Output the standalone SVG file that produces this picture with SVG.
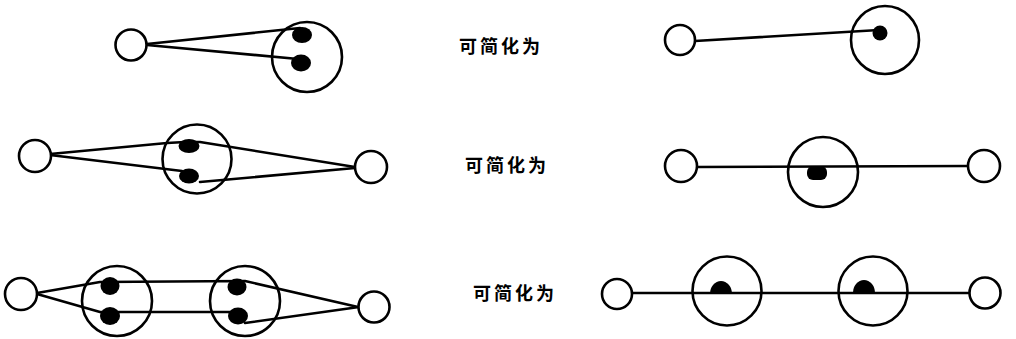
<svg xmlns="http://www.w3.org/2000/svg" width="1016" height="339" viewBox="0 0 1016 339">
  <style>
    .ring { fill: #fff; stroke: #000; stroke-width: 2.6; }
    .big { fill: none; stroke: #000; stroke-width: 2.6; }
    .dot { fill: #000; }
    .wire { fill: none; stroke: #000; stroke-width: 2.6; stroke-linejoin: round; stroke-linecap: round; }
    .label { font-family: "Noto Sans CJK SC", "Noto Sans", sans-serif; font-size: 18px; font-weight: bold; letter-spacing: 3px; fill: #000; }
  </style>
  <rect width="1016" height="339" fill="#fff"/>

  <!-- connectors -->
  <g id="connectors">
    <!-- row 1, left -->
    <polyline class="wire" points="147,44 300,28"/>
    <polyline class="wire" points="147,45 298,59"/>
    <!-- row 1, right -->
    <polyline class="wire" points="695,41 879,30"/>
    <!-- row 2, left -->
    <polyline class="wire" points="50,154 167,143 185,142 200,142 355,167"/>
    <polyline class="wire" points="50,155 182,171"/>
    <polyline class="wire" points="200,182 355,168"/>
    <!-- row 2, right -->
    <polyline class="wire" points="697,167 968,166"/>
    <!-- row 3, left -->
    <polyline class="wire" points="37,293 100,282 245,281 358,307"/>
    <polyline class="wire" points="37,294 100,312 237,312"/>
    <polyline class="wire" points="245,323 359,307"/>
    <!-- row 3, right -->
    <polyline class="wire" points="632,293 970,293"/>
  </g>

  <!-- row 1 -->
  <g id="r1-left-end"><circle class="ring" cx="131" cy="45" r="15.5"/></g>
  <g id="r1-left-big">
    <circle class="big" cx="307" cy="57" r="35"/>
    <ellipse class="dot" cx="302" cy="35" rx="10" ry="8"/>
    <ellipse class="dot" cx="301" cy="63" rx="10" ry="8.5"/>
  </g>
  <g id="r1-right-end"><circle class="ring" cx="680" cy="40" r="15"/></g>
  <g id="r1-right-big">
    <circle class="big" cx="885" cy="40" r="34"/>
    <circle class="dot" cx="880" cy="33" r="7.5"/>
  </g>

  <!-- row 2 -->
  <g id="r2-left-end-a"><circle class="ring" cx="35" cy="156" r="16"/></g>
  <g id="r2-left-big">
    <circle class="big" cx="197" cy="159" r="34.5"/>
    <ellipse class="dot" cx="189" cy="146" rx="10.5" ry="7"/>
    <ellipse class="dot" cx="189" cy="176" rx="10" ry="7.5"/>
  </g>
  <g id="r2-left-end-b"><circle class="ring" cx="371" cy="167" r="16"/></g>
  <g id="r2-right-end-a"><circle class="ring" cx="681" cy="166" r="16"/></g>
  <g id="r2-right-big">
    <circle class="big" cx="823" cy="172" r="35"/>
    <rect class="dot" x="807" y="166" width="20" height="14" rx="6"/>
  </g>
  <g id="r2-right-end-b"><circle class="ring" cx="984" cy="166" r="16"/></g>

  <!-- row 3 -->
  <g id="r3-left-end-a"><circle class="ring" cx="21" cy="294" r="16"/></g>
  <g id="r3-left-big-a">
    <circle class="big" cx="117" cy="301" r="35"/>
    <ellipse class="dot" cx="110" cy="286" rx="9.5" ry="9"/>
    <ellipse class="dot" cx="110" cy="316" rx="10" ry="9"/>
  </g>
  <g id="r3-left-big-b">
    <circle class="big" cx="245" cy="301" r="35"/>
    <ellipse class="dot" cx="237" cy="287" rx="9.5" ry="8.5"/>
    <ellipse class="dot" cx="238" cy="316" rx="10" ry="8.5"/>
  </g>
  <g id="r3-left-end-b"><circle class="ring" cx="374" cy="307" r="15.5"/></g>
  <g id="r3-right-end-a"><circle class="ring" cx="617" cy="294" r="15"/></g>
  <g id="r3-right-big-a">
    <circle class="big" cx="727" cy="291" r="34.5"/>
    <!-- dome resting on the line -->
    <path class="dot" d="M710,294 A11,13 0 0 1 732,294 Z"/>
  </g>
  <g id="r3-right-big-b">
    <circle class="big" cx="873" cy="291" r="34.5"/>
    <path class="dot" d="M853,293 A11,13 0 0 1 875,293 Z"/>
  </g>
  <g id="r3-right-end-b"><circle class="ring" cx="985" cy="293" r="15.5"/></g>

  <!-- labels -->
  <g id="labels">
    <text class="label" x="459" y="53">可简化为</text>
    <text class="label" x="465" y="172">可简化为</text>
    <text class="label" x="473" y="300">可简化为</text>
  </g>
</svg>
